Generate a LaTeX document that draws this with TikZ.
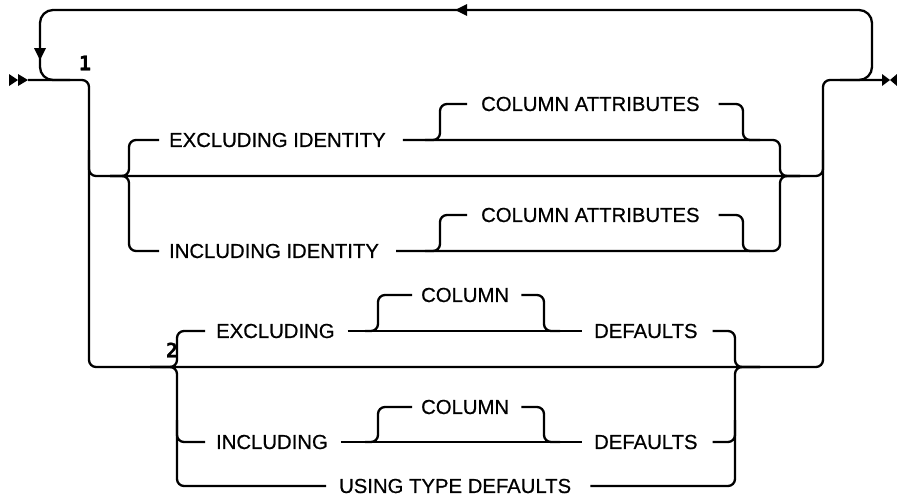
\documentclass[tikz,border=0pt]{standalone}
\usepackage{fontspec}
\setmainfont[FakeBold=0.6]{Liberation Sans}
\newfontfamily\monofnt[FakeBold=0.8]{DejaVu Sans Mono}
\begin{document}
\begin{tikzpicture}[x=1pt,y=-1pt, line width=2.3pt,
  rail/.style={draw, rounded corners=7pt},
  looprail/.style={draw, rounded corners=13pt},
  kw/.style={anchor=west, inner xsep=0pt, inner ysep=1pt, font=\fontsize{20.3}{24}\selectfont},
  fn/.style={font=\monofnt\bfseries\fontsize{20}{24}\selectfont, inner sep=0pt},
  tipfill/.style={fill=black, draw=none}]
\useasboundingbox (0,0) rectangle (897,498);

% keywords
\node[kw] (exid) at (168,140) {EXCLUDING IDENTITY};
\node[kw] (inid) at (168,251) {INCLUDING IDENTITY};
\node[kw] (ca1) at (480,104) {COLUMN ATTRIBUTES};
\node[kw] (ca2) at (480,215) {COLUMN ATTRIBUTES};
\node[kw] (ex) at (215,331) {EXCLUDING};
\node[kw] (in) at (215,442) {INCLUDING};
\node[kw] (col1) at (420,295) {COLUMN};
\node[kw] (col2) at (420,407) {COLUMN};
\node[kw] (def1) at (593,331) {DEFAULTS};
\node[kw] (def2) at (593,442) {DEFAULTS};
\node[kw] (utd) at (338,486) {USING TYPE DEFAULTS};
\node[fn] (n1) at (85,63) {1};
\node[fn] (n2) at (172,350) {2};

\coordinate (s) at (28,80);
\coordinate (e) at (882,80);

% main line and required choice
\draw[rail] (s) -- (89,80) -- (89,367) -- (823,367) -- (823,80) -- (e);
\draw[rail] (89,150) -- (89,176) -- (823,176) -- (823,150);

% repeat loop
\draw[looprail] (70,80) -- (40,80) -- (40,10) -- (872,10) -- (872,80) -- (840,80);
\fill[tipfill] (34,48) -- (40,60) -- (46,48) -- cycle;
\fill[tipfill] (467,4) -- (455,10) -- (467,16) -- cycle;

% group 1
\draw[rail] (110,176) -- (129,176) -- (129,140) -- ([xshift=-9pt]exid.west);
\draw[rail] (110,176) -- (129,176) -- (129,251) -- ([xshift=-9pt]inid.west);
\draw[rail] ([xshift=16pt]exid.east) -- (780,140) -- (780,176) -- (800,176);
\draw[rail] ([xshift=16pt]inid.east) -- (780,251) -- (780,176) -- (800,176);
\draw[rail] (425,140) -- (440,140) -- (440,104) -- ([xshift=-13pt]ca1.west);
\draw[rail] ([xshift=18pt]ca1.east) -- (743,104) -- (743,140) -- (760,140);
\draw[rail] (425,251) -- (440,251) -- (440,215) -- ([xshift=-13pt]ca2.west);
\draw[rail] ([xshift=18pt]ca2.east) -- (743,215) -- (743,251) -- (760,251);

% group 2
\draw[rail] (150,367) -- (177,367) -- (177,331) -- ([xshift=-10pt]ex.west);
\draw[rail] (150,367) -- (177,367) -- (177,486) -- ([xshift=-12pt]utd.west);
\draw[rail] (177,420) -- (177,442) -- ([xshift=-10pt]in.west);
\draw[rail] ([xshift=12pt]ex.east) -- ([xshift=-11pt]def1.west);
\draw[rail] ([xshift=12pt]in.east) -- ([xshift=-11pt]def2.west);
\draw[rail] (365,331) -- (378,331) -- (378,295) -- ([xshift=-8pt]col1.west);
\draw[rail] ([xshift=11pt]col1.east) -- (544,295) -- (544,331) -- (560,331);
\draw[rail] (365,442) -- (378,442) -- (378,407) -- ([xshift=-8pt]col2.west);
\draw[rail] ([xshift=11pt]col2.east) -- (544,407) -- (544,442) -- (560,442);
\draw[rail] ([xshift=14pt]def1.east) -- (735,331) -- (735,367) -- (760,367);
\draw[rail] ([xshift=14pt]def2.east) -- (735,442) -- (735,420);
\draw[rail] ([xshift=18pt]utd.east) -- (735,486) -- (735,367) -- (760,367);

% start and end marks
\fill[tipfill] (9,74) -- (18,80) -- (9,86) -- cycle;
\fill[tipfill] (18,74) -- (28,80) -- (18,86) -- cycle;
\fill[tipfill] (882,74) -- (890,80) -- (882,86) -- cycle;
\fill[tipfill] (897,74) -- (890,80) -- (897,86) -- cycle;
\end{tikzpicture}
\end{document}
